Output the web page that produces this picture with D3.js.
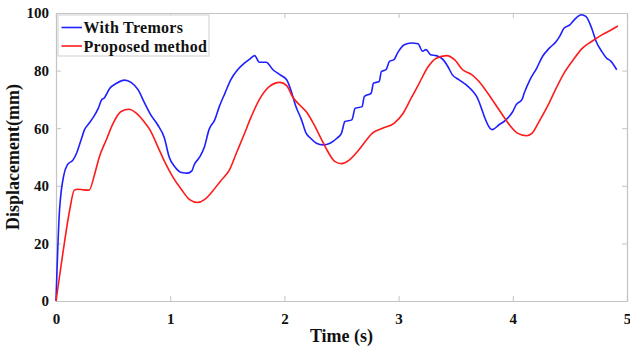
<!DOCTYPE html>
<html>
<head>
<meta charset="utf-8">
<script src="https://cdn.jsdelivr.net/npm/d3@7"></script>
<style>
  body { margin: 0; background: #fff; }
  svg { display: block; }
  text { font-family: "Liberation Serif", "Times New Roman", serif; font-weight: bold; fill: #111; }
</style>
</head>
<body>
<div id="chart"></div>
<script>
// series names
var seriesNames = ["With Tremors", "Proposed method"];
var seriesColors = ["#1f1fff", "#ff1a1a"];

// With Tremors: time (s), displacement (mm)
var tremorT = [0, 0.03, 0.07, 0.10, 0.15, 0.18, 0.22, 0.25, 0.29, 0.32, 0.37, 0.40, 0.42, 0.47, 0.53, 0.60, 0.66, 0.72, 0.77, 0.83, 0.89, 0.95, 0.99, 1.04, 1.10, 1.15, 1.19, 1.21, 1.26, 1.30, 1.34, 1.39, 1.43, 1.48, 1.53, 1.59, 1.65, 1.69, 1.74, 1.78, 1.84, 1.90, 1.96, 2.02, 2.06, 2.10, 2.15, 2.19, 2.23, 2.28, 2.34, 2.40, 2.46, 2.50, 2.53, 2.59, 2.62, 2.68, 2.70, 2.76, 2.78, 2.83, 2.85, 2.89, 2.92, 2.96, 2.99, 3.05, 3.11, 3.17, 3.21, 3.24, 3.28, 3.33, 3.39, 3.43, 3.47, 3.53, 3.59, 3.65, 3.69, 3.72, 3.75, 3.80, 3.82, 3.88, 3.94, 4.00, 4.03, 4.08, 4.10, 4.15, 4.21, 4.26, 4.32, 4.38, 4.41, 4.45, 4.50, 4.54, 4.60, 4.64, 4.69, 4.73, 4.78, 4.82, 4.86, 4.91];
var tremorV = [0, 31, 44, 47.3, 49, 51.3, 56, 59.5, 61.7, 63.4, 66.9, 69.9, 70.4, 73.8, 75.6, 76.7, 75.8, 73.3, 69.2, 64.6, 61.2, 56.5, 50.1, 46.6, 44.6, 44.4, 45.2, 47.3, 50.1, 53.6, 59.5, 62.9, 67.5, 72.2, 76.8, 80.3, 82.6, 83.8, 85.2, 82.9, 82.9, 80.3, 78.6, 76.8, 72.8, 67.6, 62.9, 58.3, 56.5, 54.8, 54.2, 54.8, 56.5, 58.3, 62.3, 62.9, 66.9, 67.5, 71, 72.2, 75.6, 76.2, 79.7, 80.3, 83.2, 83.8, 86.1, 89, 89.6, 89.3, 86.7, 87.3, 85.5, 85.2, 83.8, 81.5, 78.6, 76.8, 75.1, 72.8, 70.5, 67.5, 64.1, 60, 59.5, 61.2, 62.9, 65.8, 68.2, 69.9, 72.2, 76.8, 80.9, 84.9, 87.8, 90.1, 91.9, 94.8, 95.9, 97.7, 99.4, 98.8, 94.8, 90.1, 86.6, 84.4, 83.2, 80.3];

// Proposed method: time (s), displacement (mm)
var proposedT = [0, 0.06, 0.12, 0.16, 0.19, 0.24, 0.29, 0.34, 0.38, 0.44, 0.50, 0.57, 0.64, 0.70, 0.77, 0.83, 0.89, 0.95, 1.02, 1.10, 1.17, 1.24, 1.30, 1.37, 1.44, 1.52, 1.58, 1.64, 1.71, 1.78, 1.87, 1.96, 2.02, 2.07, 2.13, 2.20, 2.26, 2.32, 2.38, 2.44, 2.50, 2.57, 2.64, 2.72, 2.77, 2.86, 2.96, 3.04, 3.11, 3.18, 3.26, 3.33, 3.42, 3.49, 3.56, 3.64, 3.69, 3.75, 3.82, 3.90, 3.97, 4.04, 4.12, 4.17, 4.23, 4.31, 4.38, 4.45, 4.53, 4.61, 4.69, 4.78, 4.86, 4.92];
var proposedV = [0, 16.6, 31.6, 38.5, 38.8, 38.6, 38.5, 44.3, 50.1, 55.9, 61.7, 65.8, 66.6, 65.3, 62.3, 58.9, 53.7, 48.5, 43.3, 38.6, 35.2, 34.2, 35.2, 38.1, 41.6, 45.6, 51.4, 57.1, 64, 69.9, 74.5, 75.9, 74.8, 71, 68.2, 65.3, 61.2, 56.5, 51.9, 48.5, 47.7, 49, 51.9, 56, 58.3, 60, 61.7, 65.2, 70.4, 75.6, 81.4, 84.3, 85.2, 83.8, 80.3, 78.6, 76.8, 73.9, 69.9, 65.2, 61.2, 58.3, 57.4, 58.3, 62.3, 68.1, 73.9, 79.2, 83.8, 87.8, 90.1, 92.4, 94.1, 95.5];

var xTicks = [0, 1, 2, 3, 4, 5];
var yTicks = [0, 20, 40, 60, 80, 100];

var margin = {top: 13, right: 3, bottom: 48, left: 56},
    width = 630 - margin.left - margin.right,
    height = 349 - margin.top - margin.bottom;

var svg = d3.select("#chart")
  .append("svg")
    .attr("width", 630)
    .attr("height", 349)
  .append("g")
    .attr("transform", "translate(" + margin.left + "," + margin.top + ")");

var x = d3.scaleLinear().domain([0, 5]).range([0, 571]);
var y = d3.scaleLinear().domain([0, 100]).range([288, 0]);

var axisColor = "#c4c4c4";

// bottom axis
var xAxis = svg.append("g")
  .attr("transform", "translate(0," + 288 + ")")
  .call(d3.axisBottom(x).tickValues(xTicks).tickSize(-5).tickPadding(12).tickFormat(d3.format("d")));
// left axis
var yAxis = svg.append("g")
  .call(d3.axisLeft(y).tickValues(yTicks).tickSize(-5).tickPadding(7));
// top + right axes (ticks only)
var xTop = svg.append("g")
  .call(d3.axisTop(x).tickValues(xTicks).tickSize(-5).tickFormat(""));
var yRight = svg.append("g")
  .attr("transform", "translate(571,0)")
  .call(d3.axisRight(y).tickValues(yTicks).tickSize(-5).tickFormat(""));

[xAxis, yAxis, xTop, yRight].forEach(function(a) {
  a.select(".domain").attr("stroke", axisColor).attr("stroke-width", 1.2);
  a.selectAll(".tick line").attr("stroke", axisColor);
  a.selectAll(".tick text").style("font-size", "15px").attr("fill", "#111");
});

var line = d3.line()
  .x(function(d) { return x(d[0]) })
  .y(function(d) { return y(d[1]) })
  .curve(d3.curveMonotoneX);

var tremorData = tremorT.map(function(t, i) { return [t, tremorV[i]]; });
var proposedData = proposedT.map(function(t, i) { return [t, proposedV[i]]; });

svg.append("path")
  .datum(tremorData)
  .attr("fill", "none")
  .attr("stroke", seriesColors[0])
  .attr("stroke-width", 1.6)
  .attr("d", line);

svg.append("path")
  .datum(proposedData)
  .attr("fill", "none")
  .attr("stroke", seriesColors[1])
  .attr("stroke-width", 1.6)
  .attr("d", line);

// legend
var legend = svg.append("g").attr("transform", "translate(2,2)");
legend.append("rect")
  .attr("x", 0).attr("y", 0)
  .attr("width", 151).attr("height", 41)
  .attr("fill", "#fff")
  .attr("stroke", "#cfcfcf");
seriesNames.forEach(function(name, i) {
  var ly = 12.5 + i * 18.5;
  legend.append("line")
    .attr("x1", 3.5).attr("x2", 24)
    .attr("y1", ly).attr("y2", ly)
    .attr("stroke", seriesColors[i])
    .attr("stroke-width", 1.6);
  legend.append("text")
    .attr("x", 25.5).attr("y", ly + 5.5)
    .style("font-size", "16px")
    .style("letter-spacing", "0.3px")
    .text(name);
});

// axis titles
svg.append("text")
  .attr("x", x(2.5)).attr("y", 342 - margin.top)
  .attr("text-anchor", "middle")
  .style("font-size", "18px")
  .text("Time (s)");

svg.append("text")
  .attr("transform", "translate(" + (19 - margin.left) + "," + (157 - margin.top) + ") rotate(-90)")
  .attr("text-anchor", "middle")
  .style("font-size", "18px")
  .text("Displacement(mm)");
</script>
</body>
</html>
